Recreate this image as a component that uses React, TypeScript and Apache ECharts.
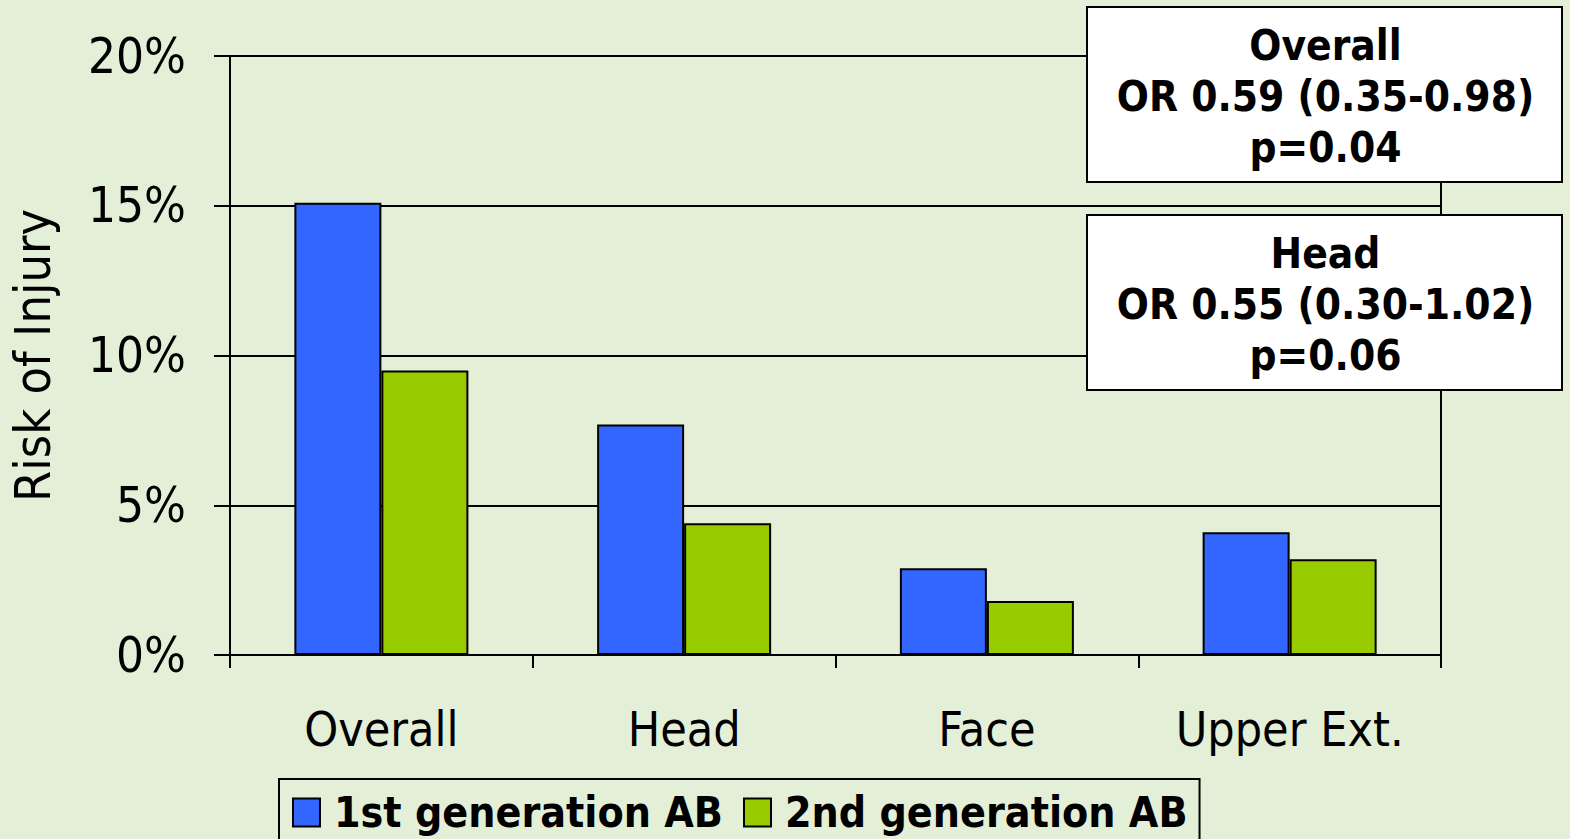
import React, { useEffect, useRef } from "react";
import * as echarts from "echarts";

const categories = ["Overall", "Head", "Face", "Upper Ext."];
const seriesNames = ["1st generation AB", "2nd generation AB"];
const firstGen = [15.1, 7.7, 2.9, 4.1];
const secondGen = [9.5, 4.4, 1.8, 3.2];
const yAxisName = "Risk of Injury";
const annotationLines = [
  ["Overall", "OR 0.59 (0.35-0.98)", "p=0.04"],
  ["Head", "OR 0.55 (0.30-1.02)", "p=0.06"],
];

const FONT = '"DejaVu Sans Condensed", "DejaVu Sans", sans-serif';
const BG = "#E4EFD8";

export default function App() {
  const ref = useRef<HTMLDivElement>(null);
  useEffect(() => {
    document.body.style.margin = "0";
    document.body.style.background = BG;
    const chart = echarts.init(ref.current!, null, { renderer: "svg" });
    const boxes = [
      { x: 1087, y: 7, w: 475, h: 175 },
      { x: 1087, y: 215, w: 475, h: 175 },
    ];
    chart.setOption({
      animation: false,
      backgroundColor: BG,
      textStyle: { fontFamily: FONT },
      grid: {
        left: 227,
        right: 129,
        top: 56,
        bottom: 184,
        show: true,
        borderColor: "#000",
        borderWidth: 2,
        backgroundColor: "transparent",
      },
      legend: {
        data: seriesNames,
        left: 279,
        top: 779,
        padding: [12, 12, 30, 13],
        borderColor: "#000",
        borderWidth: 2,
        itemWidth: 27,
        itemHeight: 28,
        itemGap: 20,
        icon: "rect",
        textStyle: {
          fontFamily: FONT,
          fontWeight: "bold",
          fontSize: 42.5,
          color: "#000",
          padding: [0, 0, 0, 9],
        },
      },
      xAxis: {
        type: "category",
        data: categories,
        axisLine: { lineStyle: { color: "#000", width: 2 } },
        axisTick: { show: true, length: 13, lineStyle: { color: "#000", width: 2 } },
        axisLabel: { fontFamily: FONT, fontSize: 48, color: "#000", margin: 50 },
      },
      yAxis: {
        type: "value",
        min: 0,
        max: 20,
        interval: 5,
        name: yAxisName,
        nameLocation: "middle",
        nameRotate: 90,
        nameGap: 172,
        nameTextStyle: { fontFamily: FONT, fontSize: 50, color: "#000" },
        axisLine: { show: true, lineStyle: { color: "#000", width: 2 } },
        axisTick: { show: true, length: 16, lineStyle: { color: "#000", width: 2 } },
        axisLabel: {
          fontFamily: FONT,
          fontSize: 49,
          color: "#000",
          margin: 44,
          formatter: "{value}%",
        },
        splitLine: { show: true, lineStyle: { color: "#000", width: 2 } },
      },
      series: [
        {
          name: seriesNames[0],
          type: "bar",
          data: firstGen,
          barWidth: 87,
          barGap: "0%",
          itemStyle: { color: "#3366FF", borderColor: "#000", borderWidth: 2 },
        },
        {
          name: seriesNames[1],
          type: "bar",
          data: secondGen,
          barWidth: 87,
          barGap: "0%",
          itemStyle: { color: "#99CC00", borderColor: "#000", borderWidth: 2 },
        },
      ],
      graphic: boxes.map((b, i) => ({
        type: "group",
        z: 100,
        children: [
          {
            type: "rect",
            z: 100,
            shape: { x: b.x, y: b.y, width: b.w, height: b.h },
            style: { fill: "#fff", stroke: "#000", lineWidth: 2 },
          },
          {
            type: "text",
            z: 101,
            x: b.x + b.w / 2 + 1,
            y: b.y + b.h / 2 + 2,
            style: {
              text: annotationLines[i].join("\n"),
              font: `bold 42px ${FONT}`,
              lineHeight: 51,
              fill: "#000",
              align: "center",
              verticalAlign: "middle",
            },
          },
        ],
      })),
    });
    return () => chart.dispose();
  }, []);
  return (
    <div
      ref={ref}
      style={{ position: "absolute", left: 0, top: 0, width: 1570, height: 839 }}
    />
  );
}
